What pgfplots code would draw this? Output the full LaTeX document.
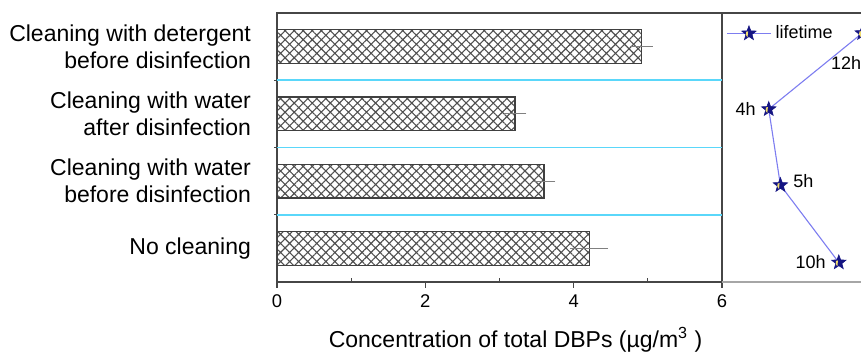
\documentclass[border=0pt]{standalone}
\usepackage{pgfplots}
\usepackage{pgfplotstable}
\pgfplotsset{compat=1.18}
\usepackage{fontspec}
\setmainfont{Liberation Sans}
\usetikzlibrary{patterns.meta}
\definecolor{hatchgray}{RGB}{80,80,80}
\definecolor{gridcyan}{RGB}{90,215,250}
\definecolor{starnavy}{RGB}{20,20,130}
\definecolor{staryellow}{RGB}{240,220,110}
\definecolor{linelilac}{RGB}{125,125,240}
\definecolor{axgray}{RGB}{70,70,70}
\pgfdeclareplotmark{fstar}{%
  \pgfpathmoveto{\pgfpointpolar{90}{\pgfplotmarksize}}%
  \pgfpathlineto{\pgfpointpolar{126}{0.42\pgfplotmarksize}}%
  \pgfpathlineto{\pgfpointpolar{162}{\pgfplotmarksize}}%
  \pgfpathlineto{\pgfpointpolar{198}{0.42\pgfplotmarksize}}%
  \pgfpathlineto{\pgfpointpolar{234}{\pgfplotmarksize}}%
  \pgfpathlineto{\pgfpointpolar{270}{0.42\pgfplotmarksize}}%
  \pgfpathlineto{\pgfpointpolar{306}{\pgfplotmarksize}}%
  \pgfpathlineto{\pgfpointpolar{342}{0.42\pgfplotmarksize}}%
  \pgfpathlineto{\pgfpointpolar{18}{\pgfplotmarksize}}%
  \pgfpathlineto{\pgfpointpolar{54}{0.42\pgfplotmarksize}}%
  \pgfpathclose
  \pgfusepathqfillstroke
  \begin{pgfscope}%
  \pgfsetfillcolor{staryellow}%
  \pgfpathmoveto{\pgfpointpolar{150}{0.42\pgfplotmarksize}}%
  \pgfpathlineto{\pgfpointpolar{112}{0.30\pgfplotmarksize}}%
  \pgfpathlineto{\pgfpointpolar{250}{0.55\pgfplotmarksize}}%
  \pgfpathlineto{\pgfpointpolar{205}{0.45\pgfplotmarksize}}%
  \pgfpathclose
  \pgfusepathqfill
  \end{pgfscope}}
\pgfplotstableread{
y x err
0 4.21 0.2
1 3.60 0.1
2 3.21 0.1
3 4.91 0.1
}\bardata
\pgfplotstableread{
x y
12 3.20
4 2.07
5 0.94
10 -0.21
}\lifedata
\begin{document}
\begin{tikzpicture}
\path[use as bounding box, clip] (0,0) rectangle (430.5pt,176pt);
\begin{axis}[
  at={(138.5pt,35pt)}, anchor=south west, scale only axis,
  width=222.5pt, height=134.5pt,
  xmin=0, xmax=6, ymin=-0.5, ymax=3.5,
  axis line style={axgray, line width=0.6pt},
  xtick={0,2,4,6},
  xtick pos=bottom, ytick pos=left,
  xtick align=outside, ytick align=center,
  major tick length=3pt, minor tick length=3pt,
  extra x ticks={1,3,5}, extra x tick labels={},
  extra x tick style={xtick align=inside, major tick length=2pt},
  every tick/.style={axgray, line width=0.6pt},
  ytick={0,1,2,3},
  yticklabels={No cleaning,{Cleaning with water\\before disinfection},{Cleaning with water\\after disinfection},{Cleaning with detergent\\before disinfection}},
  major y tick style={draw=none},
  minor ytick={0.5,1.5,2.5},
  yticklabel style={font=\fontsize{11.5}{13.5}\selectfont, align=right, xshift=-8pt},
  xticklabel style={font=\fontsize{9.2}{10}\selectfont},
  /pgf/number format/assume math mode=true,
  xlabel={Concentration of total DBPs (µg/m\textsuperscript{3} )},
  xlabel style={font=\fontsize{11.5}{13.5}\selectfont, at={(axis description cs:0.536,0)}, anchor=center, yshift=-29pt},
]
\addplot[gridcyan, line width=0.8pt, forget plot] coordinates {(0,0.5) (6,0.5)};
\addplot[gridcyan, line width=0.8pt, forget plot] coordinates {(0,1.5) (6,1.5)};
\addplot[gridcyan, line width=0.8pt, forget plot] coordinates {(0,2.5) (6,2.5)};
\addplot[xbar, bar width=0.5, draw=black!75, line width=0.6pt,
  pattern={Hatch[angle=45,distance=3.2pt,line width=0.55pt]}, pattern color=hatchgray,
  error bars/.cd, x dir=both, x explicit,
  error bar style={gray, line width=0.5pt},
  error mark options={gray, mark size=2pt, line width=0.5pt}]
  table[x=x, y=y, x error=err] {\bardata};
\end{axis}
\begin{axis}[
  at={(361pt,35pt)}, anchor=south west, scale only axis,
  width=69.5pt, height=134.5pt,
  xmin=0, xmax=11.9, ymin=-0.5, ymax=3.5,
  axis line style={draw=none},
  xtick=\empty, ytick=\empty,
  clip=false,
  legend style={at={(axis description cs:0,1)}, anchor=north west, draw=none, fill=none,
    font=\fontsize{9}{10}\selectfont, inner sep=1pt, xshift=1pt, yshift=-3pt},
  legend image code/.code={\draw[mark repeat=2,mark phase=2,linelilac,#1] plot coordinates {(0pt,0pt) (11pt,0pt) (22pt,0pt)};},
]
\draw[axgray, line width=0.6pt] (rel axis cs:0,1) -- (rel axis cs:1,1);
\draw[black!35, line width=0.6pt] (rel axis cs:0,0) -- (rel axis cs:1,0);
\addplot[color=linelilac, line width=0.55pt, mark=fstar, mark size=3.8pt,
  mark options={fill=starnavy, draw=starnavy, line width=0.3pt}]
  table[x=x, y=y] {\lifedata};
\addlegendentry{lifetime}
\node[font=\fontsize{9}{10}\selectfont, anchor=north east] at ([xshift=3pt,yshift=-8pt]axis cs:12,3.20) {12h};
\node[font=\fontsize{9}{10}\selectfont, anchor=east] at ([xshift=-3pt]axis cs:4,2.07) {4h};
\node[font=\fontsize{9}{10}\selectfont, anchor=west] at ([xshift=3pt,yshift=2pt]axis cs:5,0.94) {5h};
\node[font=\fontsize{9}{10}\selectfont, anchor=east] at ([xshift=-3pt]axis cs:10,-0.21) {10h};
\end{axis}
\end{tikzpicture}
\end{document}
